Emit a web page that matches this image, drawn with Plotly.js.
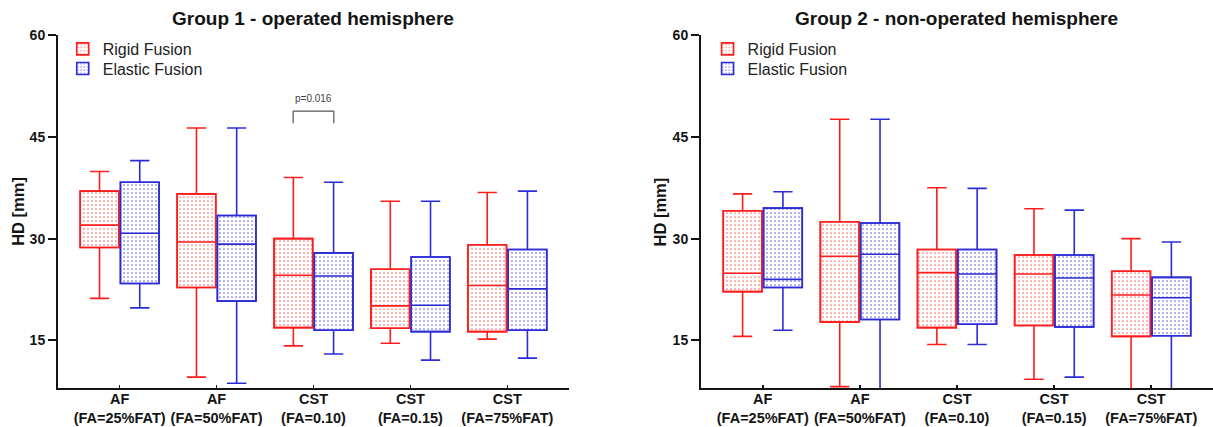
<!DOCTYPE html>
<html><head><meta charset="utf-8">
<script src="https://cdn.plot.ly/plotly-3.0.1.min.js"></script>
<style>html,body{margin:0;padding:0;background:#fff;}#chart{width:1213px;height:427px;}</style>
</head><body><div id="chart"></div>
<script>
const categories = ['AF<br>(FA=25%FAT)', 'AF<br>(FA=50%FAT)', 'CST<br>(FA=0.10)', 'CST<br>(FA=0.15)', 'CST<br>(FA=75%FAT)'];
const seriesNames = ['Rigid Fusion', 'Elastic Fusion'];
const panelTitles = ['Group 1 - operated hemisphere', 'Group 2 - non-operated hemisphere'];
const yTitle = 'HD [mm]';
const yTicks = [15, 30, 45, 60];

// Group 1 - operated hemisphere
const g1RigidLower   = [21.2, 9.6, 14.2, 14.6, 15.2];
const g1RigidQ1      = [28.7, 22.8, 16.9, 16.8, 16.3];
const g1RigidMedian  = [32.0, 29.5, 24.6, 20.1, 23.1];
const g1RigidQ3      = [37.0, 36.6, 30.0, 25.5, 29.1];
const g1RigidUpper   = [39.9, 46.3, 39.0, 35.5, 36.8];
const g1ElasticLower  = [19.8, 8.7, 13.0, 12.1, 12.4];
const g1ElasticQ1     = [23.4, 20.8, 16.5, 16.3, 16.5];
const g1ElasticMedian = [30.8, 29.2, 24.5, 20.2, 22.6];
const g1ElasticQ3     = [38.3, 33.4, 27.9, 27.3, 28.4];
const g1ElasticUpper  = [41.5, 46.3, 38.3, 35.5, 37.0];

// Group 2 - non-operated hemisphere
const g2RigidLower   = [15.6, 8.2, 14.4, 9.3, 7.0];
const g2RigidQ1      = [22.2, 17.7, 16.9, 17.2, 15.6];
const g2RigidMedian  = [24.9, 27.4, 25.0, 24.8, 21.7];
const g2RigidQ3      = [34.1, 32.5, 28.4, 27.6, 25.2];
const g2RigidUpper   = [36.6, 47.6, 37.5, 34.4, 30.0];
const g2ElasticLower  = [16.5, 7.5, 14.4, 9.6, 7.5];
const g2ElasticQ1     = [22.8, 18.1, 17.4, 17.0, 15.7];
const g2ElasticMedian = [24.0, 27.7, 24.8, 24.2, 21.3];
const g2ElasticQ3     = [34.5, 32.3, 28.4, 27.6, 24.3];
const g2ElasticUpper  = [36.9, 47.6, 37.4, 34.2, 29.5];

// significance marker (Group 1, CST FA=0.10)
const pLabel = 'p=0.016';
const pCategoryIndex = 2;
const pBracketTop = 48.8;
const pBracketBottom = 47.0;
const pLabelY = 50.7;

const RED = 'rgb(255,28,28)';
const BLUE = 'rgb(44,44,214)';
const RED_DOT = 'rgba(255,60,60,0.75)';
const BLUE_DOT = 'rgba(50,50,220,0.75)';

function boxTrace(lower, q1, med, q3, upper, color, xa, ya, grp, off) {
  return {
    type: 'box', x: categories, q1: q1, median: med, q3: q3,
    lowerfence: lower, upperfence: upper,
    xaxis: xa, yaxis: ya, boxpoints: false, whiskerwidth: 0.5,
    alignmentgroup: grp, offsetgroup: off,
    line: {color: color, width: 1.6}, fillcolor: 'rgba(0,0,0,0)',
    showlegend: false, hoverinfo: 'skip'
  };
}
function fillTrace(q1, q3, color, dot, name, xa, ya, legendId, grp, off) {
  return {
    type: 'bar', x: categories, base: q1, y: q3.map((v, i) => v - q1[i]),
    name: name, xaxis: xa, yaxis: ya, legend: legendId,
    alignmentgroup: grp, offsetgroup: off,
    marker: {color: 'white', line: {color: color, width: 1.6},
      pattern: {shape: '.', fgcolor: dot, bgcolor: 'white', size: 4, solidity: 0.14}},
    hoverinfo: 'skip'
  };
}

const data = [
  fillTrace(g1RigidQ1, g1RigidQ3, RED, RED_DOT, seriesNames[0], 'x', 'y', 'legend', 'p1', 'r'),
  fillTrace(g1ElasticQ1, g1ElasticQ3, BLUE, BLUE_DOT, seriesNames[1], 'x', 'y', 'legend2', 'p1', 'e'),
  fillTrace(g2RigidQ1, g2RigidQ3, RED, RED_DOT, seriesNames[0], 'x2', 'y2', 'legend3', 'p2', 'r'),
  fillTrace(g2ElasticQ1, g2ElasticQ3, BLUE, BLUE_DOT, seriesNames[1], 'x2', 'y2', 'legend4', 'p2', 'e'),
  boxTrace(g1RigidLower, g1RigidQ1, g1RigidMedian, g1RigidQ3, g1RigidUpper, RED, 'x', 'y', 'p1', 'r'),
  boxTrace(g1ElasticLower, g1ElasticQ1, g1ElasticMedian, g1ElasticQ3, g1ElasticUpper, BLUE, 'x', 'y', 'p1', 'e'),
  boxTrace(g2RigidLower, g2RigidQ1, g2RigidMedian, g2RigidQ3, g2RigidUpper, RED, 'x2', 'y2', 'p2', 'r'),
  boxTrace(g2ElasticLower, g2ElasticQ1, g2ElasticMedian, g2ElasticQ3, g2ElasticUpper, BLUE, 'x2', 'y2', 'p2', 'e')
];

const FONT = 'Arial, "Liberation Sans", sans-serif';
const INK = '#141414';
function xAxis(domain) {
  return {domain: domain, range: [-0.636, 4.636], showline: true, linecolor: INK, linewidth: 2,
    ticks: 'inside', ticklen: 3, tickwidth: 1.5, tickcolor: INK, showgrid: false, zeroline: false,
    ticklabelstandoff: -3,
    tickfont: {size: 14.5, weight: 'bold', color: INK, family: FONT}, fixedrange: true, automargin: false};
}
function yAxis(anchor) {
  return {anchor: anchor, range: [8, 60], tickvals: yTicks, showline: true, linecolor: INK, linewidth: 2,
    ticks: 'outside', ticklen: 8, tickwidth: 2, tickcolor: INK, showgrid: false, zeroline: false,
    tickfont: {size: 14, weight: 'bold', color: INK, family: FONT}, fixedrange: true, automargin: false};
}
function legendAt(x, y) {
  return {x: x, xanchor: 'left', y: y, yanchor: 'middle', bgcolor: 'rgba(0,0,0,0)',
    font: {size: 16, color: '#222', family: FONT}};
}
const D1 = [0, 0.4424], D2 = [0.5567, 1];
const layout = {
  width: 1213, height: 427,
  margin: {l: 58, r: 0, t: 35, b: 39},
  paper_bgcolor: 'white', plot_bgcolor: 'white',
  font: {family: FONT, color: INK},
  boxmode: 'group', boxgap: 0.17, boxgroupgap: 0.04,
  barmode: 'group', bargap: 0.17, bargroupgap: 0.04,
  xaxis: Object.assign(xAxis(D1), {anchor: 'y'}),
  yaxis: yAxis('x'),
  xaxis2: Object.assign(xAxis(D2), {anchor: 'y2'}),
  yaxis2: yAxis('x2'),
  legend: legendAt(D1[0] + 0.0041, 0.9603),
  legend2: legendAt(D1[0] + 0.0041, 0.905),
  legend3: legendAt(D2[0] + 0.0057, 0.9603),
  legend4: legendAt(D2[0] + 0.0057, 0.905),
  annotations: [
    {text: '<b>' + panelTitles[0] + '</b>', xref: 'paper', yref: 'paper', x: (D1[0] + D1[1]) / 2, y: 1.048,
      xanchor: 'center', yanchor: 'middle', showarrow: false, font: {size: 19, color: INK}},
    {text: '<b>' + panelTitles[1] + '</b>', xref: 'paper', yref: 'paper', x: (D2[0] + D2[1]) / 2, y: 1.048,
      xanchor: 'center', yanchor: 'middle', showarrow: false, font: {size: 19, color: INK}},
    {text: '<b>' + yTitle + '</b>', xref: 'paper', yref: 'paper', x: -0.0352, y: 0.5, textangle: -90,
      xanchor: 'center', yanchor: 'middle', showarrow: false, font: {size: 16.5, color: INK}},
    {text: '<b>' + yTitle + '</b>', xref: 'paper', yref: 'paper', x: 0.5212, y: 0.5, textangle: -90,
      xanchor: 'center', yanchor: 'middle', showarrow: false, font: {size: 16.5, color: INK}},
    {text: pLabel, xref: 'x', yref: 'y', x: pCategoryIndex, y: pLabelY, xanchor: 'center', yanchor: 'middle',
      showarrow: false, font: {size: 10, color: '#444'}}
  ],
  shapes: [
    {type: 'line', xref: 'x', yref: 'y', x0: pCategoryIndex - 0.21, x1: pCategoryIndex + 0.21, y0: pBracketTop, y1: pBracketTop, line: {color: '#555', width: 1.2}},
    {type: 'line', xref: 'x', yref: 'y', x0: pCategoryIndex - 0.21, x1: pCategoryIndex - 0.21, y0: pBracketTop, y1: pBracketBottom, line: {color: '#555', width: 1.2}},
    {type: 'line', xref: 'x', yref: 'y', x0: pCategoryIndex + 0.21, x1: pCategoryIndex + 0.21, y0: pBracketTop, y1: pBracketBottom, line: {color: '#555', width: 1.2}}
  ]
};
Plotly.newPlot('chart', data, layout, {staticPlot: true, displayModeBar: false});
</script>
</body></html>
